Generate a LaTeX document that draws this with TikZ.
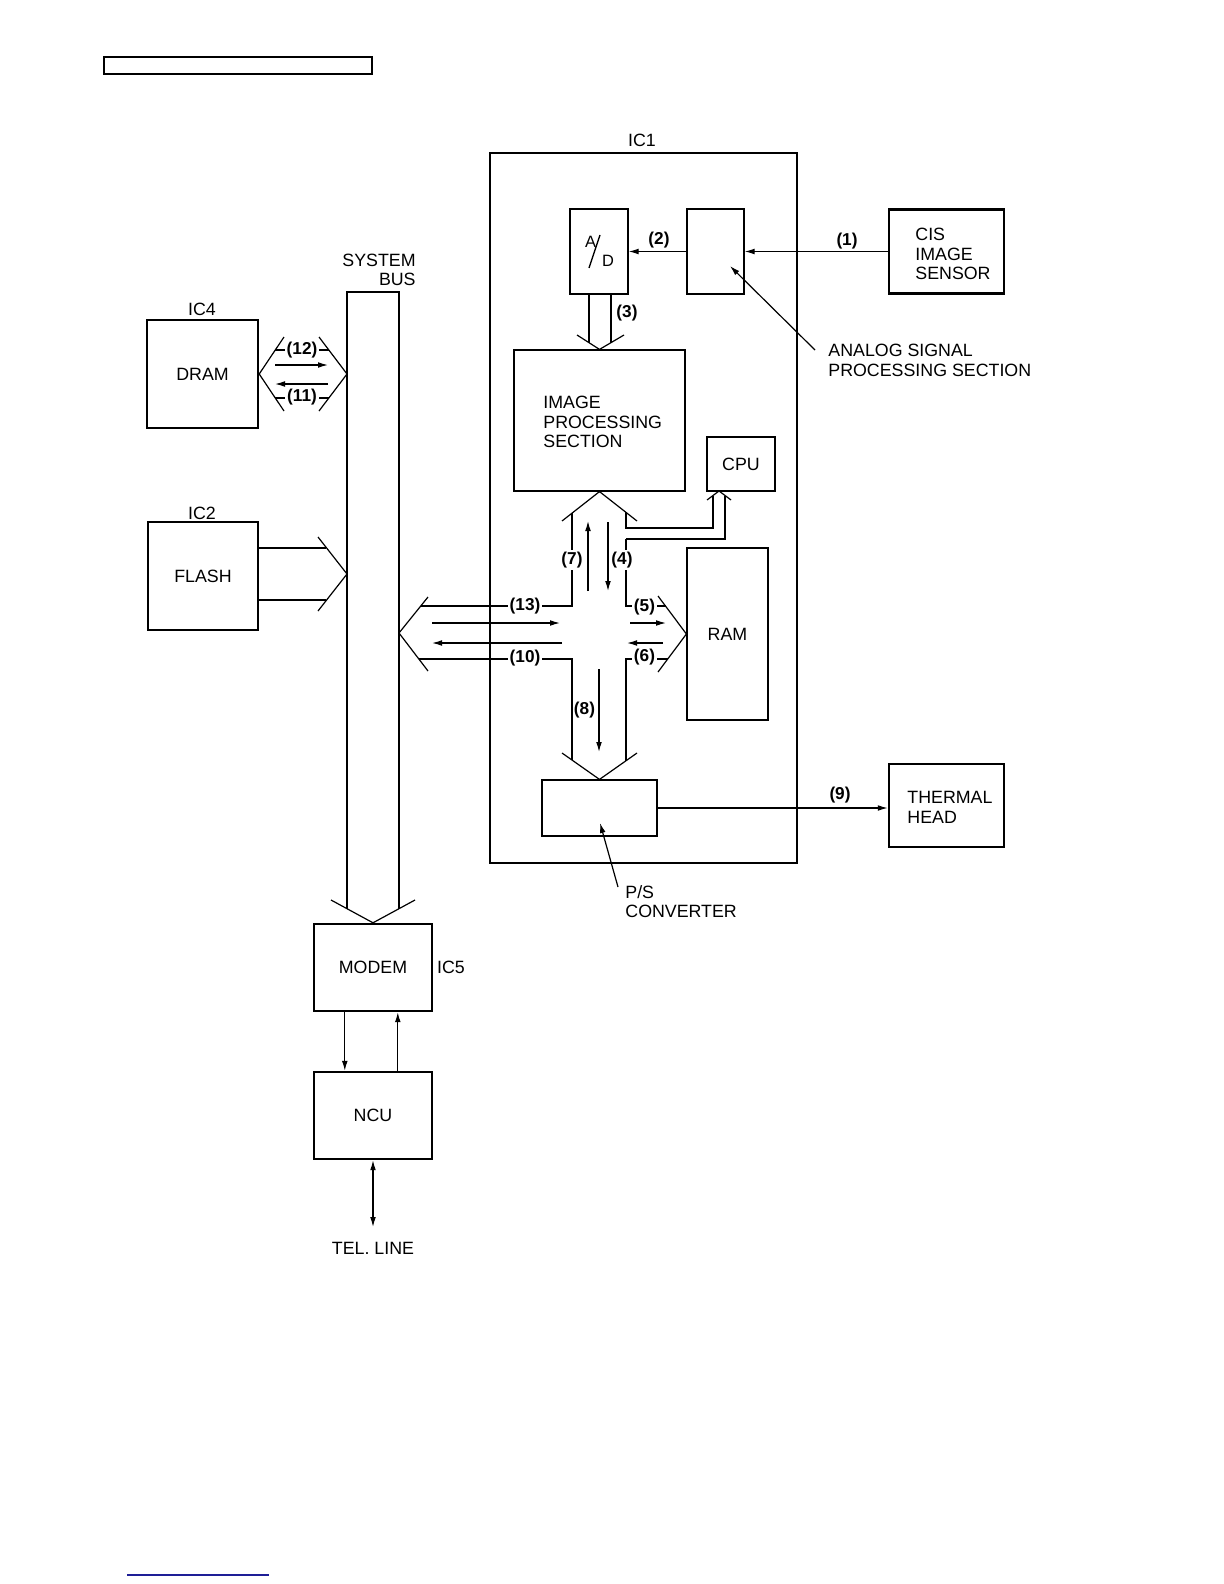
\documentclass[tikz,border=0pt]{standalone}
\usepackage{fontspec}
\setmainfont{Liberation Sans}
\usetikzlibrary{arrows.meta}
\definecolor{navyline}{RGB}{30,30,150}
\tikzset{
  ln/.style={line width=0.6pt},
  arr/.style={line width=0.6pt,-{Latex[length=5pt,width=2.9pt]}},
  dblarr/.style={line width=0.6pt,{Latex[length=5pt,width=2.9pt]}-{Latex[length=5pt,width=2.9pt]}},
  inbox/.style={draw,line width=0.6pt,rectangle,inner sep=0pt,font=\fontsize{8.9}{9.8}\selectfont},
  exbox/.style={draw,line width=1.2pt,rectangle,inner sep=0pt,font=\fontsize{8.9}{9.8}\selectfont},
  chipbox/.style={draw,line width=1.0pt,rectangle,inner sep=0pt},
  txt/.style={font=\fontsize{8.9}{9.8}\selectfont,inner sep=0pt,align=left},
  smalltxt/.style={font=\fontsize{8.2}{9}\selectfont,inner sep=0pt},
  num/.style={font=\fontsize{8.6}{9.8}\selectfont\bfseries,inner sep=1pt,fill=white},
}
\begin{document}
\begin{tikzpicture}[x=0.5pt,y=-0.5pt]
\useasboundingbox (0,0) rectangle (1224,1584);
\fill[white] (0,0) rectangle (1224,1584);

% header box and footer line
\node[draw,line width=0.7pt,rectangle,inner sep=0pt,minimum width=134pt,minimum height=8.5pt] (hdr) at (238,65.5) {};
\draw[line width=0.7pt,navyline] (127,1575) -- (269,1575);

% IC1
\node[chipbox,minimum width=153.5pt,minimum height=355pt] (ic1) at (643.5,508) {};
\node[txt] (ic1l) at (642,140) {IC1};

% inner boxes
\node[inbox,minimum width=29pt,minimum height=42.5pt] (ad) at (599,251.5) {};
\node[smalltxt] (adA) at (590.5,241.5) {A};
\node[smalltxt] (adD) at (608,261) {D};
\draw[line width=0.7pt] (600,235) -- (589,268);
\node[inbox,minimum width=28.5pt,minimum height=42.5pt] (asp) at (715.5,251.5) {};
\node[inbox,minimum width=85.5pt,minimum height=70.5pt] (img) at (599.5,420.5) {};
\node[txt,anchor=west] (imgl) at (543,422) {IMAGE\\PROCESSING\\SECTION};
\node[inbox,minimum width=34pt,minimum height=27pt] (cpu) at (741,464) {CPU};
\node[inbox,minimum width=40.5pt,minimum height=86pt] (ram) at (727.5,634) {RAM};
\node[inbox,minimum width=57.5pt,minimum height=28pt] (ps) at (599.5,808) {};

% external boxes
\node[exbox,minimum width=57.5pt,minimum height=42pt] (cis) at (946.5,251.5) {};
\node[txt,anchor=west] (cisl) at (915,254) {CIS\\IMAGE\\SENSOR};
\node[exbox,minimum width=57.5pt,minimum height=41.5pt] (th) at (946.5,805.5) {};
\node[txt,anchor=west] (thl) at (907,807.5) {THERMAL\\HEAD};
\node[exbox,minimum width=55.5pt,minimum height=54pt] (dram) at (202.5,374) {DRAM};
\node[txt] (ic4) at (202,309) {IC4};
\node[exbox,minimum width=55pt,minimum height=54pt] (flash) at (203,576) {FLASH};
\node[txt] (ic2) at (202,513) {IC2};
\node[exbox,minimum width=59pt,minimum height=43.5pt] (modem) at (373,967.5) {MODEM};
\node[txt] (ic5) at (451,967) {IC5};
\node[exbox,minimum width=59pt,minimum height=43.5pt] (ncu) at (373,1115.5) {NCU};

% system bus
\draw[ln] (347,909) -- (347,292) -- (399,292) -- (399,909);
\node[txt,anchor=east,align=right] (sbl) at (416,270) {SYSTEM\\BUS};
\draw[ln] (331,900) -- (modem.north) -- (415,900);

% DRAM bus
\draw[ln] (284,337) -- (dram.east) -- (284,411);
\draw[ln] (319,337) -- (347,374) -- (319,411);
\draw[ln] (275,350) -- (329,350);
\draw[ln] (275,398) -- (329,398);
\draw[arr] (275,365) -- (328,365);
\draw[arr] (328,384) -- (275,384);
\node[num] (n12) at (302,350) {(12)};
\node[num] (n11) at (302,397) {(11)};

% FLASH bus
\draw[ln] (258,548) -- (326,548);
\draw[ln] (258,600) -- (326,600);
\draw[ln] (318,537) -- (347,574) -- (318,611);

% A/D signal chain
\draw[arr] (cis.west) -- (asp.east);
\node[num] (n1) at (847,241) {(1)};
\draw[arr] (asp.west) -- (ad.east);
\node[num,fill=none] (n2) at (659,240) {(2)};
\draw[ln] (589,294) -- (589,343);
\draw[ln] (611,294) -- (611,343);
\draw[ln] (577,335) -- (img.north) -- (624,335);
\node[num,fill=none] (n3) at (627,313) {(3)};

% central hub
\draw[ln] (562,521) -- (img.south) -- (637,521);
\draw[ln] (572,513) -- (572,606) -- (421,606);
\draw[ln] (626,512) -- (626,528) -- (713,528) -- (713,495.5);
\draw[ln] (626,539) -- (725,539) -- (725,495.5);
\draw[ln] (707,500) -- (719,491) -- (731,500);
\draw[ln] (626,539) -- (626,606) -- (666,606);
\draw[ln] (658,596) -- (ram.west) -- (658,672);
\draw[ln] (668,659) -- (626,659) -- (626,761);
\draw[ln] (419,659) -- (572,659) -- (572,760);
\draw[ln] (562,753) -- (ps.north) -- (637,753);
\draw[ln] (428,597) -- (399,633) -- (428,671);

\draw[arr] (588,591) -- (588,521);
\draw[arr] (608,522) -- (608,591);
\draw[arr] (432,623) -- (560,623);
\draw[arr] (562,643) -- (432,643);
\draw[arr] (630,623) -- (666,623);
\draw[arr] (663,643) -- (627,643);
\draw[arr] (599,669) -- (599,752);

\node[num] (n7) at (572,560) {(7)};
\node[num] (n4) at (622,560) {(4)};
\node[num] (n13) at (525,606) {(13)};
\node[num] (n10) at (525,658) {(10)};
\node[num] (n5) at (644.5,607) {(5)};
\node[num] (n6) at (644.5,657) {(6)};
\node[num,fill=none] (n8) at (584.5,710) {(8)};

% thermal head
\draw[arr] (ps.east) -- (ps.east -| th.west);
\node[num,fill=none] (n9) at (840,795) {(9)};

% pointers
\coordinate (aspp) at (815,350);
\draw[arr] (aspp) -- (730,266);
\node[txt,anchor=west] (aspl) at (828,360.5) {ANALOG SIGNAL\\PROCESSING SECTION};
\coordinate (psp) at (618,887);
\draw[arr] (psp) -- (600,823);
\node[txt,anchor=west] (psl) at (625,901.5) {P/S\\CONVERTER};

% modem / ncu / line
\draw[arr] ([xshift=16pt]modem.south west) -- ([xshift=16pt]ncu.north west);
\draw[arr] ([xshift=42.5pt]ncu.north west) -- ([xshift=42.5pt]modem.south west);
\coordinate (tel) at (373,1227);
\draw[dblarr] (ncu.south) -- (tel);
\node[txt] (tell) at (373,1248) {TEL. LINE};
\end{tikzpicture}
\end{document}
